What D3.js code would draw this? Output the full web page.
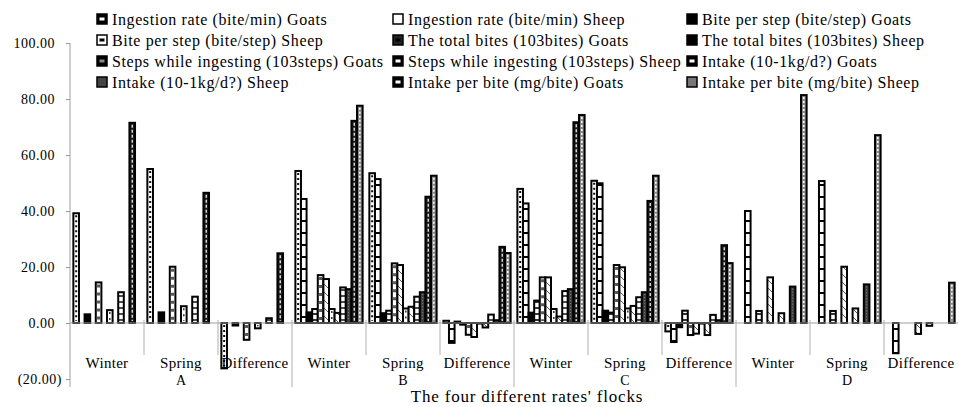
<!DOCTYPE html>
<html>
<head>
<meta charset="utf-8">
<style>
body { margin: 0; background: #fff; }
svg text { font-family: "Liberation Serif", "Times New Roman", serif; fill: #000; }
</style>
</head>
<body>
<svg id="chart" width="959" height="407"></svg>
<script src="https://d3js.org/d3.v7.min.js"></script>
<script>
// categories
const groups = ["A", "B", "C", "D"];
const seasons = ["Winter", "Spring", "Difference"];
const seriesNames = [
  "Ingestion rate (bite/min) Goats", "Ingestion rate (bite/min) Sheep",
  "Bite per step (bite/step) Goats", "Bite per step (bite/step) Sheep",
  "The total bites (103bites) Goats", "The total bites (103bites) Sheep",
  "Steps while ingesting (103steps) Goats", "Steps while ingesting (103steps) Sheep",
  "Intake (10-1kg/d?) Goats", "Intake (10-1kg/d?) Sheep",
  "Intake per bite (mg/bite) Goats", "Intake per bite (mg/bite) Sheep"
];
const yTicks = [-20, 0, 20, 40, 60, 80, 100];

// values per category, in series order (null = no bar)
const aWinter = [39.2, null, 3.1, null, 14.5, null, 4.6, null, 11.0, null, 71.5, null];
const aSpring = [55.0, null, 3.8, null, 20.1, null, 6.0, null, 9.4, null, 46.5, null];
const aDiff   = [-16.2, null, -0.9, null, -6.0, null, -1.9, null, 1.7, null, 24.9, null];
const bWinter = [54.3, 44.3, 3.8, 5.0, 17.1, 15.7, 5.0, 3.6, 12.7, 12.1, 72.2, 77.6];
const bSpring = [53.5, 51.4, 3.5, 4.4, 21.3, 20.7, 5.2, 5.8, 9.4, 11.0, 45.1, 52.6];
const bDiff   = [0.8, -7.1, 0.5, -0.6, -4.2, -5.0, -0.2, -1.6, 3.0, 1.0, 27.2, 25.0];
const cWinter = [47.9, 42.7, 3.7, 8.0, 16.3, 16.3, 5.0, 2.3, 11.4, 12.1, 71.7, 74.3];
const cSpring = [50.8, 49.9, 4.4, 3.7, 20.7, 19.9, 5.2, 6.1, 9.2, 11.0, 43.6, 52.6];
const cDiff   = [-3.0, -6.8, -1.5, 4.4, -4.3, -3.8, -0.2, -4.3, 2.9, 1.0, 27.8, 21.4];
const dWinter = [null, 40.0, null, 4.3, null, 16.3, null, 3.5, null, 13.0, null, 81.4];
const dSpring = [null, 50.7, null, 4.3, null, 20.1, null, 5.2, null, 13.8, null, 67.1];
const dDiff   = [null, -10.8, null, null, null, -3.9, null, -1.0, null, null, null, 14.4];

const rows = [aWinter, aSpring, aDiff, bWinter, bSpring, bDiff,
              cWinter, cSpring, cDiff, dWinter, dSpring, dDiff];
const cats = groups.flatMap(g => seasons.map(s => g + "|" + s));

// look of each series: fill + a dashed mark down the middle of the bar
const looks = [
  { fill: "#fff", mark: "#111", mw: 2, dash: "2,3" },
  { fill: "url(#hl12)" },
  { fill: "#000" },
  { fill: "url(#hl6)" },
  { fill: "#fff", mark: "#555", mw: 3, dash: "3,5" },
  { fill: "url(#diag)" },
  { fill: "#fff", mark: "#333", mw: 1.5, dash: "2,4" },
  { fill: "url(#diag)" },
  { fill: "url(#hl6b)" },
  { fill: "#3c3c3c", mark: "#888", mw: 1, dash: "1,2" },
  { fill: "#1a1a1a", mark: "#fff", mw: 1.2, dash: "3,2" },
  { fill: "#8a8a8a", mark: "#fff", mw: 1.5, dash: "2,2" }
];
const swatch = [
  { fill: "#000", inner: "#fff" }, { fill: "#fff" }, { fill: "#000" },
  { fill: "#fff", inner: "#000" }, { fill: "#222", inner: "#888" },
  { fill: "#000", inner: "#fff" }, { fill: "#000", inner: "#fff" },
  { fill: "#000", inner: "#fff" }, { fill: "#000", inner: "#fff" },
  { fill: "#444" }, { fill: "#000", inner: "#fff" }, { fill: "#777" }
];

const svg = d3.select("#chart");
const y = d3.scaleLinear().domain([-20, 100]).range([379, 43]);
const x0 = d3.scaleBand().domain(cats).range([70, 958]);
const x1 = d3.scaleBand().domain(d3.range(12)).range([0, x0.bandwidth()]).paddingOuter(0.6);

// patterns
const defs = svg.append("defs");
function hlines(id, step, w) {
  const p = defs.append("pattern").attr("id", id).attr("patternUnits", "userSpaceOnUse")
    .attr("width", 8).attr("height", step).attr("y", y(0));
  p.append("rect").attr("width", 8).attr("height", step).attr("fill", "#fff");
  p.append("line").attr("x1", 0).attr("x2", 8).attr("y1", step / 2).attr("y2", step / 2)
    .attr("stroke", "#000").attr("stroke-width", w);
}
hlines("hl12", 12, 2);
hlines("hl6", 6, 1.6);
hlines("hl6b", 6, 1.4);
const dg = defs.append("pattern").attr("id", "diag").attr("patternUnits", "userSpaceOnUse")
  .attr("width", 8).attr("height", 8);
dg.append("rect").attr("width", 8).attr("height", 8).attr("fill", "#fff");
dg.append("line").attr("x1", 0).attr("y1", 0).attr("x2", 8).attr("y2", 8)
  .attr("stroke", "#555").attr("stroke-width", 1);

// y axis
const yAxis = d3.axisLeft(y).tickValues(yTicks).tickSize(4)
  .tickFormat(d => d < 0 ? "(" + d3.format(".2f")(-d) + ")" : d3.format(".2f")(d));
const gy = svg.append("g").attr("transform", "translate(70,0)").call(yAxis)
  .attr("font-family", null).attr("font-size", null);
gy.select(".domain").remove();
gy.selectAll(".tick line").attr("stroke", "#999");
gy.selectAll(".tick text").style("font-size", "14px").attr("letter-spacing", "0.5px")
  .attr("x", d => d < 0 ? -8 : -15);
svg.append("line").attr("x1", 70).attr("x2", 70).attr("y1", y(100)).attr("y2", 387)
  .attr("stroke", "#a0a0a0");

// bars
cats.forEach((c, ci) => {
  rows[ci].forEach((v, si) => {
    if (v === null || v === 0) return;
    const look = looks[si];
    const bx = x0(c) + x1(si);
    const top = y(Math.max(0, v)), bot = y(Math.min(0, v));
    svg.append("rect").attr("class", "bar s" + si)
      .attr("x", bx).attr("y", top).attr("width", x1.bandwidth()).attr("height", bot - top)
      .attr("fill", look.fill).attr("stroke", "#000").attr("stroke-width", 2);
    if (look.mark && bot - top > 5) {
      svg.append("line").attr("x1", bx + x1.bandwidth() / 2).attr("x2", bx + x1.bandwidth() / 2)
        .attr("y1", top + 2).attr("y2", bot - 2)
        .attr("stroke", look.mark).attr("stroke-width", look.mw).attr("stroke-dasharray", look.dash);
    }
  });
});

// zero line and category separators
svg.append("line").attr("x1", 70).attr("x2", 958).attr("y1", y(0)).attr("y2", y(0))
  .attr("stroke", "#a0a0a0");
cats.forEach((c, ci) => {
  if (ci === 0) return;
  svg.append("line").attr("x1", x0(c)).attr("x2", x0(c))
    .attr("y1", y(0) - 3).attr("y2", ci % 3 === 0 ? 387 : 355)
    .attr("stroke", "#b0b0b0");
});

// category labels
svg.selectAll("text.cat").data(cats).enter().append("text").attr("class", "cat")
  .attr("x", d => x0(d) + x0.bandwidth() / 2).attr("y", 368)
  .attr("text-anchor", "middle").style("font-size", "15px").attr("letter-spacing", "0.3px")
  .text(d => d.split("|")[1]);
svg.selectAll("text.grp").data(groups).enter().append("text").attr("class", "grp")
  .attr("x", d => x0(d + "|Spring") + x0.bandwidth() / 2).attr("y", 385)
  .attr("text-anchor", "middle").style("font-size", "14px")
  .text(d => d);
svg.append("text").attr("x", 527).attr("y", 402).attr("text-anchor", "middle")
  .style("font-size", "17px").attr("letter-spacing", "0.8px")
  .text("The four different rates' flocks");

// legend: 3 columns x 4 rows
const legX = [97, 393, 687];
const leg = svg.selectAll("g.leg").data(seriesNames).enter().append("g").attr("class", "leg")
  .attr("transform", (d, i) => `translate(${legX[i % 3]},${19 + 21 * Math.floor(i / 3)})`);
leg.append("rect").attr("x", 0).attr("y", -5).attr("width", 10).attr("height", 10)
  .attr("fill", (d, i) => swatch[i].fill).attr("stroke", "#000").attr("stroke-width", 1.5);
leg.filter((d, i) => swatch[i].inner).append("rect")
  .attr("x", 2.5).attr("y", -1.5).attr("width", 5).attr("height", 3)
  .attr("fill", (d, i) => swatch[i].inner);
leg.append("text").attr("x", 15).attr("y", 0).attr("dy", "0.35em")
  .style("font-size", "16px").attr("letter-spacing", "0.6px")
  .text(d => d);
</script>
</body>
</html>
